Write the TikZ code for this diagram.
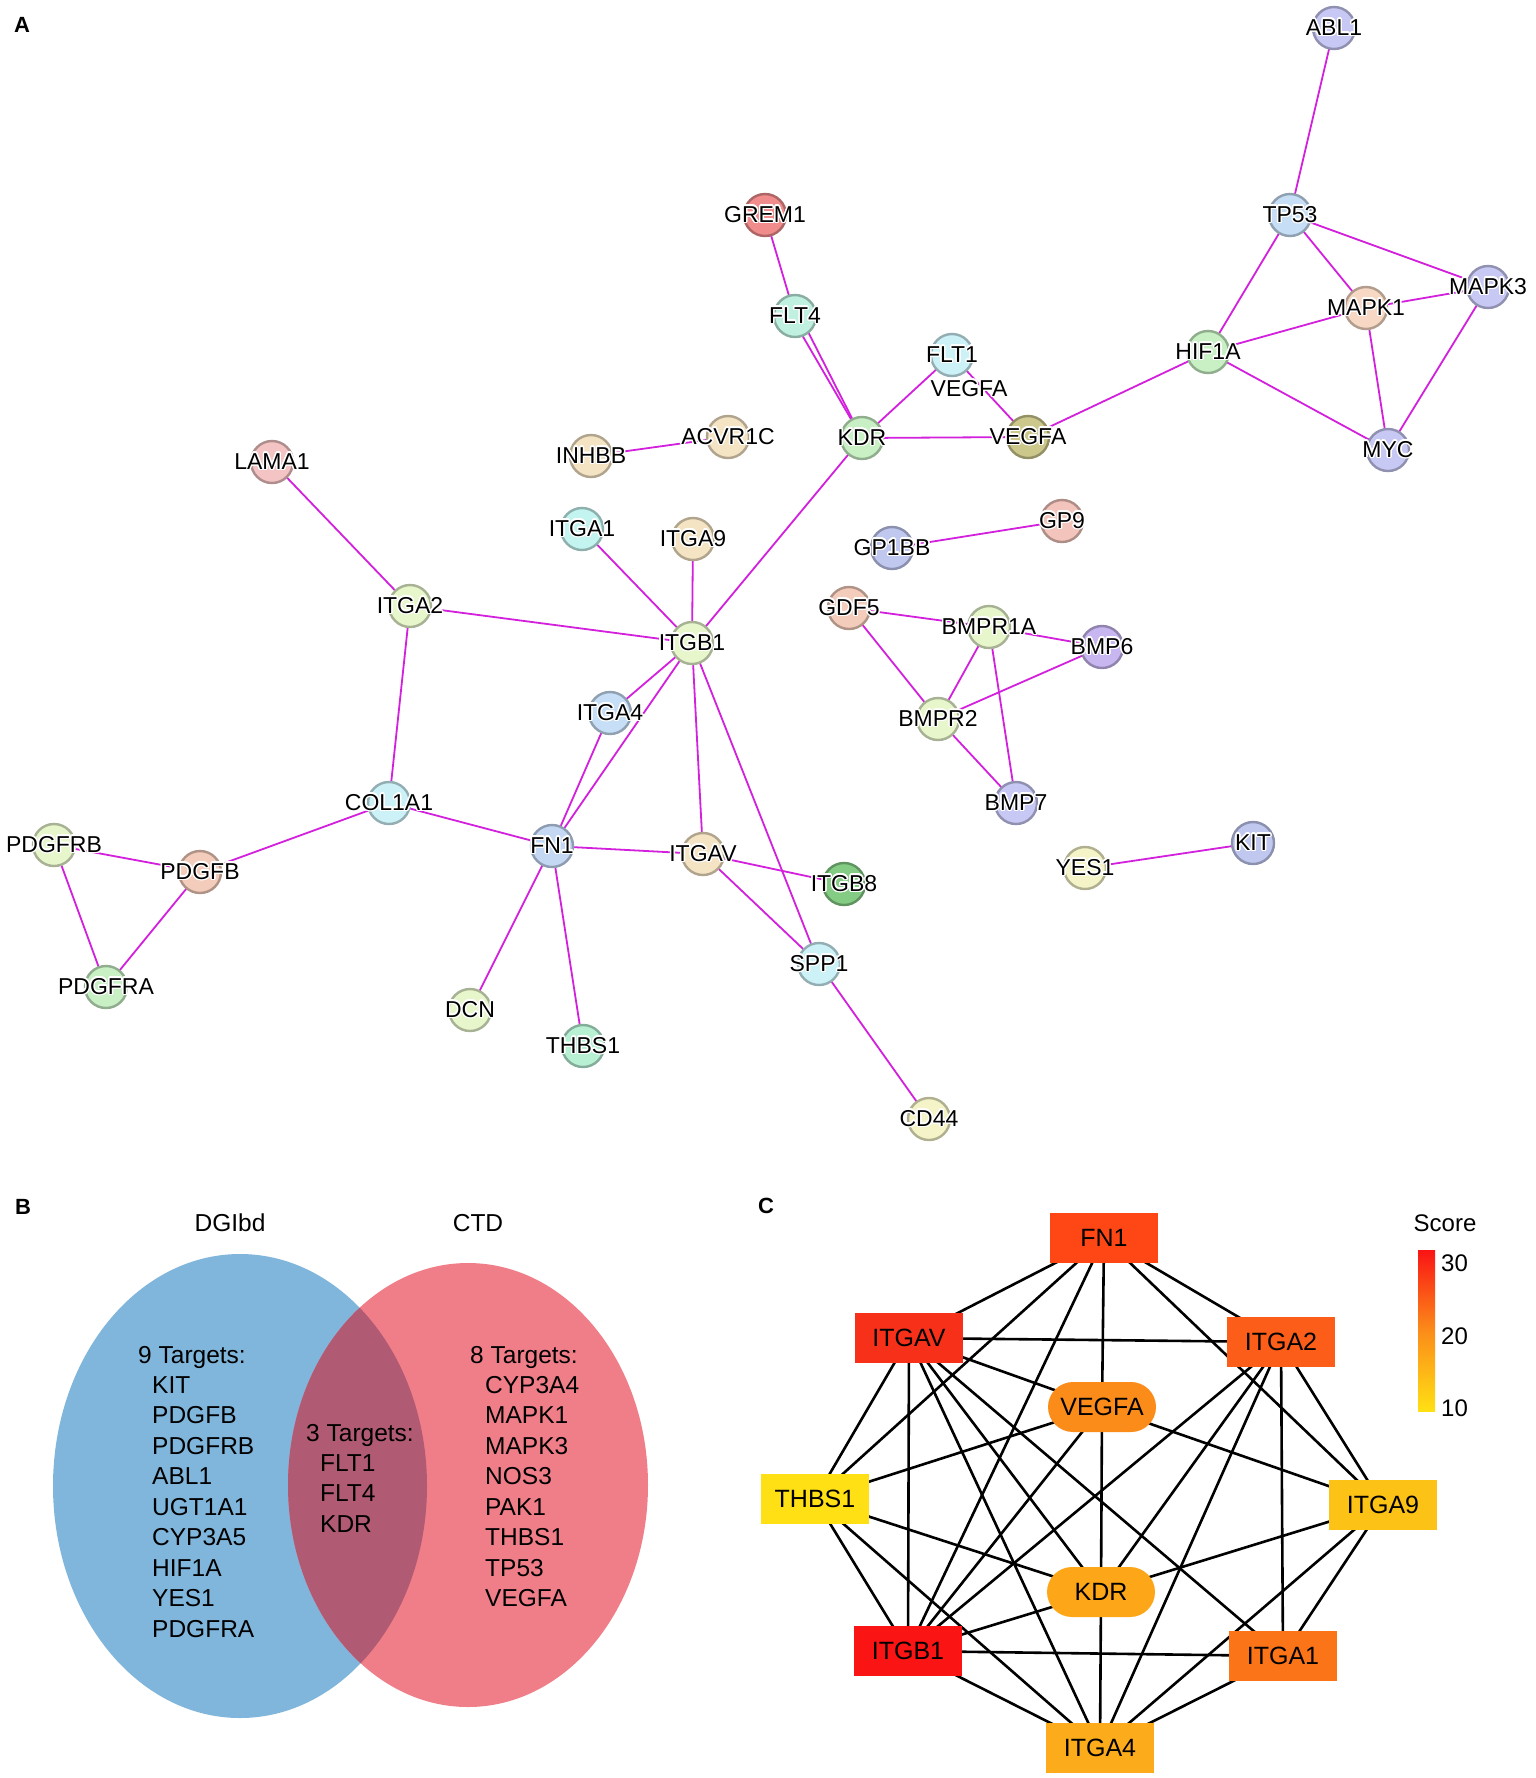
\documentclass[tikz,border=0pt]{standalone}
\usepackage{fontspec}
\setmainfont{Liberation Sans}
\usepackage{contour}
\contourlength{1.4pt}
\usetikzlibrary{backgrounds}
\definecolor{edgeM}{RGB}{210,32,220}
\definecolor{cLav}{HTML}{C8C8F4}
\definecolor{cLavB}{HTML}{C0C8F0}
\definecolor{cPur}{HTML}{C8B6F0}
\definecolor{cLBlue}{HTML}{C6DEF6}
\definecolor{cFN}{HTML}{C4D8F4}
\definecolor{cPeach}{HTML}{F6D8C4}
\definecolor{cLGreen}{HTML}{C8F0C4}
\definecolor{cRed}{HTML}{F08C8C}
\definecolor{cMint}{HTML}{C0F0E0}
\definecolor{cMintB}{HTML}{B8F0D4}
\definecolor{cCyan}{HTML}{CCF2F8}
\definecolor{cCyanB}{HTML}{C4F4F0}
\definecolor{cOlive}{HTML}{CCC88C}
\definecolor{cBeige}{HTML}{F4E4C4}
\definecolor{cPink}{HTML}{F4C4C4}
\definecolor{cPinkB}{HTML}{F2C4BC}
\definecolor{cYG}{HTML}{E8F6CC}
\definecolor{cSalm}{HTML}{F4CCBC}
\definecolor{cDG}{HTML}{84CC84}
\definecolor{cPY}{HTML}{F4F4C8}
\definecolor{sFN}{HTML}{FF4715}
\definecolor{sAV}{HTML}{F7301A}
\definecolor{sAtwo}{HTML}{FC5E19}
\definecolor{sVE}{HTML}{FB8C19}
\definecolor{sTH}{HTML}{FFE014}
\definecolor{sAnine}{HTML}{FDC216}
\definecolor{sKD}{HTML}{FCA618}
\definecolor{sBone}{HTML}{FA1414}
\definecolor{sAone}{HTML}{FC7418}
\definecolor{sAfour}{HTML}{FCAB1A}
\definecolor{vBlue}{HTML}{80B6DC}
\definecolor{vRed}{HTML}{F07E88}
\definecolor{vMix}{HTML}{B05A74}
\tikzset{
  gn/.style={circle, minimum size=42pt, inner sep=0pt, line width=2.4pt},
  glab/.style={font=\fontsize{23}{23}\selectfont, text=black, inner sep=0pt},
  ea/.style={draw=edgeM, line width=1.8pt},
  ec/.style={draw=black, line width=2.6pt},
  cbox/.style={rectangle, minimum width=108pt, minimum height=50pt, inner sep=0pt, font=\fontsize{25}{25}\selectfont},
  crnd/.style={cbox, rounded corners=25pt},
  vt/.style={font=\fontsize{24.5}{24.5}\selectfont, anchor=base west, inner sep=0pt},
  plab/.style={font=\fontsize{22}{22}\selectfont\bfseries, anchor=base west, inner sep=0pt},
  num/.style={font=\fontsize{24}{24}\selectfont, anchor=base west, inner sep=0pt}
}
\newcommand\gene[3]{\node[gn, fill=#3, draw=#3!72!black, label={[glab]center:\contour{white}{#1}}] (#1) at (#2) {};}
\begin{document}
\begin{tikzpicture}[x=1pt,y=-1pt]
\useasboundingbox (0,0) rectangle (1535,1778);
% ---------- Panel A ----------
\node[plab] (pA) at (14,32) {A};
\gene{ABL1}{1334,28}{cLav}
\gene{TP53}{1290,215}{cLBlue}
\gene{MAPK3}{1488,287}{cLav}
\gene{MAPK1}{1366,308}{cPeach}
\gene{HIF1A}{1208,352}{cLGreen}
\gene{MYC}{1388,450}{cLav}
\gene{GREM1}{765,215}{cRed}
\gene{FLT4}{795,316}{cMint}
\gene{FLT1}{952,355}{cCyan}
\gene{KDR}{862,438}{cLGreen}
\gene{VEGFA}{1028,437}{cOlive}
\gene{ACVR1C}{728,437}{cBeige}
\gene{INHBB}{591,456}{cBeige}
\gene{LAMA1}{272,462}{cPink}
\gene{ITGA1}{582,529}{cCyanB}
\gene{ITGA9}{693,539}{cBeige}
\gene{GP1BB}{892,548}{cLavB}
\gene{GP9}{1062,521}{cPinkB}
\gene{ITGA2}{410,606}{cYG}
\gene{ITGB1}{692,643}{cYG}
\gene{GDF5}{849,608}{cSalm}
\gene{BMPR1A}{989,627}{cYG}
\gene{BMP6}{1102,647}{cPur}
\gene{BMPR2}{938,719}{cYG}
\gene{ITGA4}{610,713}{cLBlue}
\gene{BMP7}{1016,803}{cLav}
\gene{COL1A1}{389,803}{cCyan}
\gene{PDGFRB}{54,845}{cYG}
\gene{PDGFB}{200,872}{cSalm}
\gene{FN1}{552,846}{cFN}
\gene{ITGAV}{703,854}{cBeige}
\gene{ITGB8}{844,884}{cDG}
\gene{YES1}{1085,868}{cPY}
\gene{KIT}{1253,843}{cLavB}
\gene{SPP1}{819,964}{cCyan}
\gene{PDGFRA}{106,987}{cLGreen}
\gene{DCN}{470,1010}{cYG}
\gene{THBS1}{583,1046}{cMintB}
\gene{CD44}{929,1119}{cPY}
\node[glab] (VEGFAlab) at (969,389) {\contour{white}{VEGFA}};
% ---------- Panel B ----------
\node[plab] (pB) at (15,1214) {B};
\node[vt, anchor=base] (dgi) at (230,1231) {DGIbd};
\node[vt, anchor=base] (ctd) at (478,1231) {CTD};
\fill[vBlue] (240,1486) ellipse [x radius=187pt, y radius=232pt];
\fill[vRed] (468,1485) ellipse [x radius=180pt, y radius=222pt];
\begin{scope}
  \clip (240,1486) ellipse [x radius=187pt, y radius=232pt];
  \fill[vMix] (468,1485) ellipse [x radius=180pt, y radius=222pt];
\end{scope}
\node[vt] (nine) at (138,1363) {9 Targets:};
\foreach \t [count=\i] in {KIT,PDGFB,PDGFRB,ABL1,UGT1A1,CYP3A5,HIF1A,YES1,PDGFRA}
  \node[vt] (bl\i) at (152,{1393+30.5*(\i-1)}) {\t};
\node[vt] (three) at (306,1441) {3 Targets:};
\foreach \t [count=\i] in {FLT1,FLT4,KDR}
  \node[vt] (bm\i) at (320,{1471+30.5*(\i-1)}) {\t};
\node[vt] (eight) at (470,1363) {8 Targets:};
\foreach \t [count=\i] in {CYP3A4,MAPK1,MAPK3,NOS3,PAK1,THBS1,TP53,VEGFA}
  \node[vt] (br\i) at (485,{1393+30.5*(\i-1)}) {\t};
% ---------- Panel C ----------
\node[plab] (pC) at (758,1213) {C};
\node[cbox, fill=sFN] (cFN1) at (1104,1238) {FN1};
\node[cbox, fill=sAV] (cITGAV) at (909,1338) {ITGAV};
\node[cbox, fill=sAtwo] (cITGA2) at (1281,1342) {ITGA2};
\node[crnd, fill=sVE] (cVEGFA) at (1102,1407) {VEGFA};
\node[cbox, fill=sTH] (cTHBS1) at (815,1499) {THBS1};
\node[cbox, fill=sAnine] (cITGA9) at (1383,1505) {ITGA9};
\node[crnd, fill=sKD] (cKDR) at (1101,1592) {KDR};
\node[cbox, fill=sBone] (cITGB1) at (908,1651) {ITGB1};
\node[cbox, fill=sAone] (cITGA1) at (1283,1656) {ITGA1};
\node[cbox, fill=sAfour] (cITGA4) at (1100,1748) {ITGA4};
\node[num, anchor=base] (score) at (1445,1231) {Score};
\shade[top color=sBone, bottom color=sTH, middle color=sVE] (1418,1250) rectangle (1435,1411);
\node[num] (s30) at (1441,1271) {30};
\node[num] (s20) at (1441,1344) {20};
\node[num] (s10) at (1441,1416) {10};
% ---------- edges ----------
\begin{scope}[on background layer]
  \fill[white] (0,0) rectangle (1535,1778);
  \foreach \a/\b in {ABL1/TP53, TP53/MAPK3, TP53/MAPK1, TP53/HIF1A, MAPK1/MAPK3, MAPK1/HIF1A,
    MAPK1/MYC, MAPK3/MYC, HIF1A/MYC, HIF1A/VEGFA, GREM1/FLT4, KDR/FLT1, FLT1/VEGFA, KDR/VEGFA,
    KDR/ITGB1, INHBB/ACVR1C, LAMA1/ITGA2, ITGA2/ITGB1, ITGA2/COL1A1, ITGA1/ITGB1, ITGA9/ITGB1,
    ITGB1/ITGA4, ITGB1/FN1, ITGB1/ITGAV, ITGB1/SPP1, ITGA4/FN1, COL1A1/FN1, COL1A1/PDGFB,
    PDGFB/PDGFRB, PDGFB/PDGFRA, PDGFRB/PDGFRA, FN1/ITGAV, FN1/DCN, FN1/THBS1, ITGAV/ITGB8,
    ITGAV/SPP1, SPP1/CD44, GP1BB/GP9, GDF5/BMPR1A, GDF5/BMPR2, BMPR1A/BMP6, BMPR1A/BMPR2,
    BMPR1A/BMP7, BMPR2/BMP6, BMPR2/BMP7, YES1/KIT}
    \draw[ea] (\a.center) -- (\b.center);
  \draw[ea] ([xshift=-4pt]FLT4.center) -- (KDR.center);
  \draw[ea] ([xshift=4pt,yshift=2pt]FLT4.center) -- (KDR.center);
  \foreach \a/\b in {FN1/ITGAV, FN1/THBS1, FN1/ITGB1, FN1/VEGFA, VEGFA/KDR, KDR/ITGA4, FN1/ITGA9,
    FN1/ITGA2, ITGAV/ITGA2, ITGAV/VEGFA, VEGFA/ITGA9, ITGAV/THBS1, ITGAV/ITGB1, ITGAV/ITGA4,
    ITGAV/KDR, ITGAV/ITGA1, THBS1/VEGFA, THBS1/KDR, THBS1/ITGB1, THBS1/ITGA4, ITGB1/VEGFA,
    ITGB1/ITGA2, ITGB1/KDR, ITGB1/ITGA1, ITGB1/ITGA4, ITGA2/KDR, ITGA2/ITGA4, ITGA2/ITGA1,
    ITGA2/ITGA9, ITGA9/KDR, ITGA9/ITGA4, ITGA9/ITGA1, ITGA1/ITGA4}
    \draw[ec] (c\a.center) -- (c\b.center);
\end{scope}
\end{tikzpicture}
\end{document}
